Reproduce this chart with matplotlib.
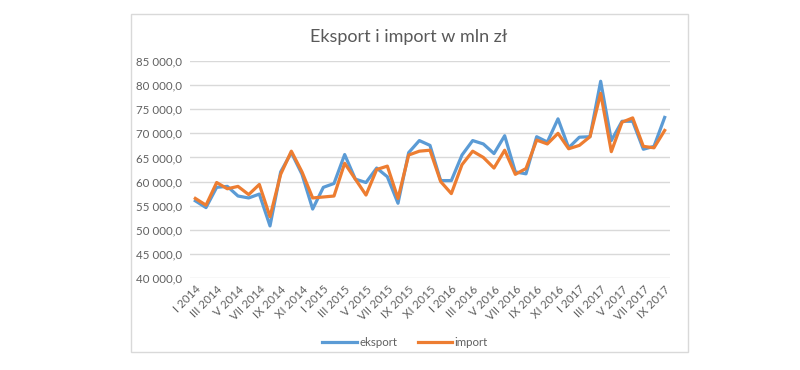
import matplotlib
matplotlib.use("Agg")
import matplotlib.pyplot as plt
from matplotlib.patches import Rectangle
from matplotlib.ticker import FuncFormatter, MultipleLocator

plt.rcParams['font.family'] = ['Lato', 'DejaVu Sans']

roman = ["I", "II", "III", "IV", "V", "VI", "VII", "VIII", "IX", "X", "XI", "XII"]
months = [f"{roman[m]} {y}" for y in range(2014, 2018) for m in range(12)][:45]

eksport = [56.0, 54.6, 58.8, 59.0, 57.0, 56.6, 57.4, 50.8, 62.0, 66.0,
           61.5, 54.3, 58.8, 59.6, 65.6, 60.5, 59.8, 62.8, 61.0, 55.5,
           66.0, 68.5, 67.5, 60.2, 60.2, 65.5, 68.5, 67.8, 65.8, 69.5,
           62.0, 61.6, 69.3, 68.2, 73.0, 67.0, 69.2, 69.3, 80.8, 68.5,
           72.5, 72.5, 66.7, 67.3, 73.3]
importv = [56.5, 55.1, 59.8, 58.5, 59.0, 57.3, 59.4, 52.7, 61.5, 66.3,
           62.0, 56.6, 56.8, 57.0, 63.8, 60.5, 57.2, 62.5, 63.2, 56.5,
           65.5, 66.3, 66.5, 60.0, 57.5, 63.5, 66.3, 65.0, 62.8, 66.5,
           61.5, 62.7, 68.6, 67.8, 70.0, 66.8, 67.5, 69.3, 78.3, 66.2,
           72.3, 73.2, 67.3, 67.0, 70.6]
eksport = [v * 1000 for v in eksport]
importv = [v * 1000 for v in importv]

fig = plt.figure(figsize=(8, 3.7), dpi=100)
W, H = 800, 370
fig.patches.append(Rectangle((131 / W, 1 - 352 / H), (688 - 131) / W, (352 - 14) / H,
                             transform=fig.transFigure, fill=False,
                             edgecolor='#D9D9D9', linewidth=1.0))

ax = fig.add_axes([190 / W, 1 - 278 / H, 480 / W, 217 / H])
x = list(range(len(months)))
ax.plot(x, eksport, color='#5B9BD5', lw=2.3, label='eksport', solid_joinstyle='round')
ax.plot(x, importv, color='#ED7D31', lw=2.3, label='import', solid_joinstyle='round')

ax.set_xlim(-0.5, len(months) - 0.5)
ax.set_ylim(40000, 85000)
ax.yaxis.set_major_locator(MultipleLocator(5000))
ax.yaxis.set_major_formatter(FuncFormatter(lambda v, p: f"{int(v):,}".replace(",", " ") + ",0"))
ax.grid(axis='y', color='#D9D9D9', lw=1.0)
ax.set_axisbelow(True)
for s in ax.spines.values():
    s.set_visible(False)
ax.tick_params(axis='both', length=0, colors='#606060', labelsize=8.3)
ax.tick_params(axis='y', pad=6)
ax.set_xticks(x[::2])
ax.set_xticklabels(months[::2], rotation=45, ha='right', rotation_mode='anchor')
ax.tick_params(axis='x', pad=4)

fig.text(409 / W, 1 - 37 / H, "Eksport i import w mln zł", ha='center', va='center',
         fontsize=13, color='#595959')

fig.legend(loc='center', bbox_to_anchor=(405 / W, 1 - 343 / H), ncol=2, frameon=False,
           fontsize=8.3, labelcolor='#606060', handlelength=3.0, columnspacing=1.8,
           handletextpad=0.2)

fig.savefig("out.png", dpi=100, facecolor='white')
